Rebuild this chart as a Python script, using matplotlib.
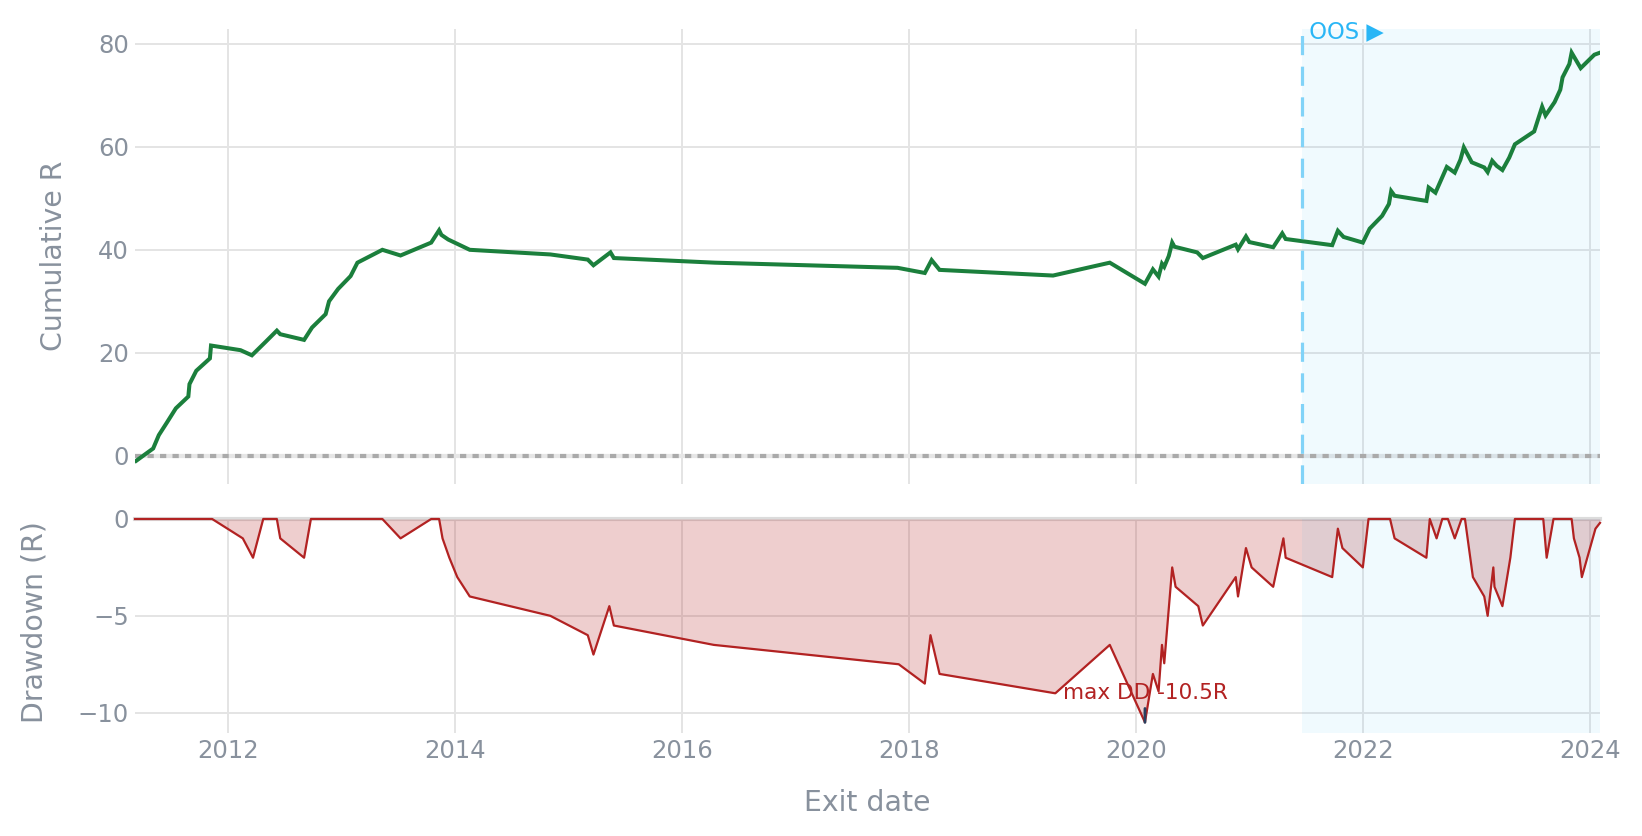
import matplotlib
matplotlib.use("Agg")
import matplotlib.pyplot as plt

# ---------------- data (exit dates as decimal years) ----------------
cum_dates = [2011.19, 2011.34, 2011.39, 2011.46, 2011.54, 2011.65, 2011.66, 2011.72, 2011.84, 2011.85,
             2012.11, 2012.21, 2012.33, 2012.43, 2012.46, 2012.67, 2012.74, 2012.86, 2012.89, 2012.97,
             2013.08, 2013.14, 2013.36, 2013.52, 2013.79, 2013.86, 2013.88, 2013.94, 2014.13, 2014.84,
             2015.17, 2015.22, 2015.37, 2015.40, 2016.29, 2017.90, 2018.14, 2018.20, 2018.27, 2019.27,
             2019.77, 2020.08, 2020.15, 2020.20, 2020.23, 2020.25, 2020.29, 2020.32, 2020.34, 2020.54,
             2020.59, 2020.88, 2020.90, 2020.97, 2021.00, 2021.21, 2021.29, 2021.32, 2021.73, 2021.78,
             2021.83, 2022.00, 2022.06, 2022.17, 2022.23, 2022.25, 2022.28, 2022.56, 2022.58, 2022.64,
             2022.74, 2022.81, 2022.86, 2022.89, 2022.96, 2023.07, 2023.10, 2023.14, 2023.18, 2023.23,
             2023.29, 2023.34, 2023.51, 2023.58, 2023.61, 2023.69, 2023.74, 2023.76, 2023.82, 2023.84,
             2023.92, 2024.04, 2024.09]
cum_r = [-1.0, 1.4, 4.0, 6.4, 9.2, 11.5, 13.9, 16.5, 18.9, 21.4,
         20.5, 19.5, 22.1, 24.3, 23.6, 22.5, 24.9, 27.5, 30.0, 32.4,
         34.9, 37.5, 40.0, 38.9, 41.4, 43.8, 42.9, 42.0, 40.0, 39.1,
         38.1, 37.0, 39.5, 38.4, 37.5, 36.5, 35.5, 38.0, 36.1, 35.0,
         37.5, 33.4, 36.2, 34.8, 37.3, 36.7, 38.8, 41.4, 40.6, 39.5,
         38.4, 41.0, 40.1, 42.6, 41.5, 40.5, 43.2, 42.1, 40.9, 43.7,
         42.5, 41.4, 44.1, 46.6, 48.9, 51.4, 50.5, 49.5, 52.1, 51.1,
         56.1, 55.0, 57.5, 59.9, 57.0, 56.0, 55.1, 57.3, 56.3, 55.5,
         57.9, 60.5, 63.0, 67.8, 66.1, 68.7, 71.1, 73.5, 76.1, 78.3,
         75.3, 77.9, 78.3]

dd_dates = [2011.18, 2011.86, 2012.13, 2012.22, 2012.31, 2012.43, 2012.46, 2012.67, 2012.73, 2013.36,
            2013.52, 2013.79, 2013.86, 2013.89, 2013.95, 2014.02, 2014.13, 2014.84, 2015.17, 2015.22,
            2015.36, 2015.40, 2016.28, 2017.91, 2018.14, 2018.19, 2018.27, 2019.29, 2019.77, 2020.08,
            2020.15, 2020.20, 2020.23, 2020.25, 2020.32, 2020.35, 2020.55, 2020.59, 2020.88, 2020.90,
            2020.97, 2021.02, 2021.21, 2021.30, 2021.32, 2021.73, 2021.78, 2021.82, 2022.00, 2022.05,
            2022.24, 2022.28, 2022.56, 2022.59, 2022.65, 2022.70, 2022.75, 2022.81, 2022.87, 2022.90,
            2022.97, 2023.07, 2023.10, 2023.15, 2023.16, 2023.23, 2023.30, 2023.34, 2023.59, 2023.62,
            2023.68, 2023.84, 2023.86, 2023.91, 2023.93, 2024.05, 2024.09]
dd_r = [0.0, 0.0, -1.0, -2.0, 0.0, 0.0, -1.0, -2.0, 0.0, 0.0,
        -1.0, 0.0, 0.0, -1.0, -2.0, -3.0, -4.0, -5.0, -6.0, -7.0,
        -4.5, -5.5, -6.5, -7.5, -8.5, -6.0, -8.0, -9.0, -6.5, -10.5,
        -8.0, -8.9, -6.5, -7.45, -2.5, -3.5, -4.5, -5.5, -3.0, -4.0,
        -1.5, -2.5, -3.5, -1.0, -2.0, -3.0, -0.5, -1.5, -2.5, 0.0,
        0.0, -1.0, -2.0, 0.0, -1.0, 0.0, 0.0, -1.0, 0.0, 0.0,
        -3.0, -4.0, -5.0, -2.5, -3.5, -4.5, -2.0, 0.0, 0.0, -2.0,
        0.0, 0.0, -1.0, -2.0, -3.0, -0.5, -0.2]

oos_start = 2021.46
year_ticks = [2012, 2014, 2016, 2018, 2020, 2022, 2024]
cum_yticks = [0, 20, 40, 60, 80]
dd_yticks = [0, -5, -10]
max_dd_date = 2020.08
max_dd_value = -10.5
max_dd_label = "max DD -10.5R"
oos_label = "OOS \u25B6"

# ---------------- styling ----------------
W, H = 1642, 836
plt.rcParams['font.family'] = ['DejaVu Sans']
TICK_C = '#88919d'
GRID_C = '#e4e4e4'
GREEN = '#1b7f3c'
RED = '#b22222'
OOS_C = '#29b6f6'

fig = plt.figure(figsize=(W / 100, H / 100), dpi=100)
L, R = 135, 1600
ax1 = fig.add_axes([L / W, 1 - 484 / H, (R - L) / W, (484 - 29) / H])
ax2 = fig.add_axes([L / W, 1 - 733 / H, (R - L) / W, (733 - 519) / H])

xmin = min(cum_dates[0], dd_dates[0])
xmax = max(cum_dates[-1], dd_dates[-1])

for ax in (ax1, ax2):
    ax.set_xlim(xmin, xmax)
    for s in ax.spines.values():
        s.set_visible(False)
    ax.set_axisbelow(True)
    ax.grid(True, color=GRID_C, linewidth=1.4)
    ax.set_xticks(year_ticks)
    ax.tick_params(length=0, labelsize=17.5, labelcolor=TICK_C, pad=4.5)
    ax.axvspan(oos_start, xmax, color=OOS_C, alpha=0.065, linewidth=0, zorder=2.5)

# top panel
ax1.set_ylim(-5.5, 82.9)
ax1.set_yticks(cum_yticks)
ax1.set_xticklabels([])
ax1.axhline(0, color='#e6e6e6', linewidth=3.0, zorder=1)
ax1.axhline(0, color='#aaaaaa', linewidth=3.0, linestyle=(0, (1.5, 1.5)),
            dash_capstyle='butt', zorder=2.6)
ax1.plot(cum_dates, cum_r, color=GREEN, linewidth=2.9, zorder=3,
         solid_joinstyle='miter')
ax1.axvline(oos_start, ymin=0, ymax=0.99, color='#81d3f8', linewidth=2.3,
            linestyle=(0, (6.0, 3.6)), zorder=3.5)
ax1.text(oos_start, 0.98, " " + oos_label, transform=ax1.get_xaxis_transform(),
         color=OOS_C, fontsize=16.3, ha='left', va='baseline', zorder=4)

# bottom panel
ax2.set_ylim(-11.05, 0)
ax2.set_yticks(dd_yticks)
ax2.yaxis.grid(False)
for yv in dd_yticks[1:]:
    ax2.axhline(yv, color=GRID_C, linewidth=1.4, zorder=0.5)
ax2.axhline(0, color='#dcdcdc', linewidth=3.0, zorder=1, clip_on=False)
ax2.fill_between(dd_dates, dd_r, 0, color=RED, alpha=0.22, linewidth=0, zorder=2)
ax2.plot(dd_dates, dd_r, color=RED, linewidth=1.6, zorder=3, clip_on=False)
ax2.set_xticklabels([str(y) for y in year_ticks])
ax2.tick_params(axis='x', pad=4)
ax2.set_yticklabels(['0', '\u22125', '\u221210'])

ax2.annotate('', xy=(max_dd_date, max_dd_value), xytext=(0, 10), textcoords='offset points',
             arrowprops=dict(arrowstyle='-', lw=2.0, color='#2a3f5f', shrinkA=0, shrinkB=0),
             zorder=4)
ax2.annotate(max_dd_label, xy=(max_dd_date, max_dd_value), xytext=(0, 17.0),
             textcoords='offset points', ha='center', va='baseline',
             color=RED, fontsize=15.6, zorder=4)

# axis titles
fig.text(54 / W, 1 - 256 / H, 'Cumulative R', rotation=90, ha='center', va='center',
         fontsize=20.4, color=TICK_C)
fig.text(34 / W, 1 - 622 / H, 'Drawdown (R)', rotation=90, ha='center', va='center',
         fontsize=20.4, color=TICK_C)
fig.text((L + R) / 2 / W, 1 - 803 / H, 'Exit date', ha='center', va='center',
         fontsize=20.4, color=TICK_C)

fig.savefig('out.png', dpi=100, facecolor='white')
